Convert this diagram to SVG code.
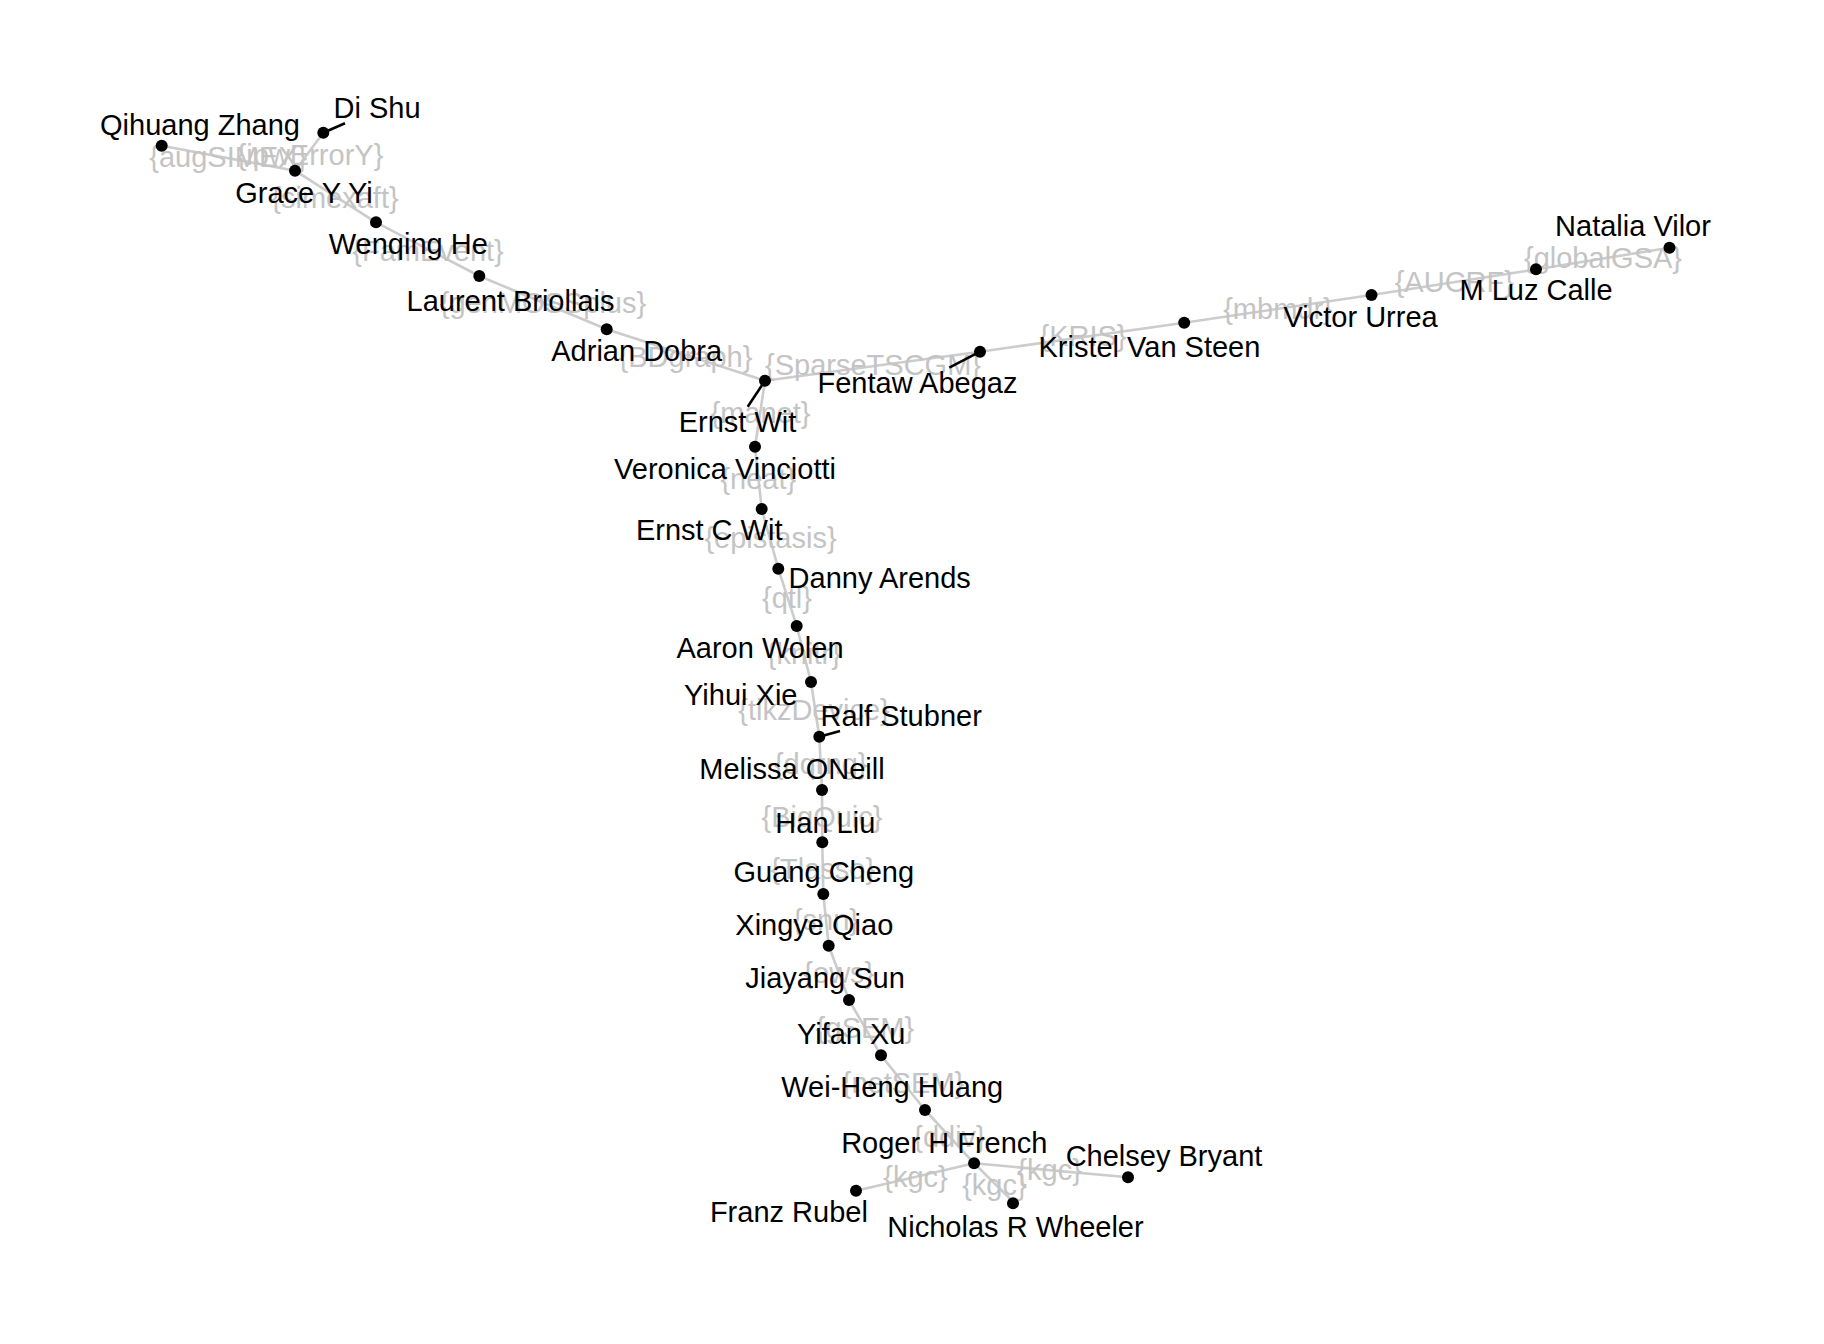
<svg xmlns="http://www.w3.org/2000/svg" width="1824" height="1344" viewBox="0 0 1824 1344">
<style>
  .edge { stroke: #cccccc; stroke-width: 2.6; fill: none; stroke-linecap: round; }
  .elabel { font-family: "Liberation Sans", Arial, sans-serif; font-size: 29px; fill: #c4c4c4; text-anchor: middle; }
  .dot { fill: #000000; }
  .nlabel { font-family: "Liberation Sans", Arial, sans-serif; font-size: 29px; fill: #000000; text-anchor: middle; }
  .leader { stroke: #000000; stroke-width: 2.6; stroke-linecap: butt; }
</style>
<rect width="1824" height="1344" fill="#ffffff"/>
<g id="connectors">
  <line class="edge" x1="161.7" y1="145.7" x2="295" y2="170.7"/>
  <line class="edge" x1="323.3" y1="132.7" x2="295" y2="170.7"/>
  <line class="edge" x1="295" y1="170.7" x2="376" y2="222.3"/>
  <line class="edge" x1="376" y1="222.3" x2="479.3" y2="276"/>
  <line class="edge" x1="479.3" y1="276" x2="606.7" y2="329.3"/>
  <line class="edge" x1="606.7" y1="329.3" x2="765" y2="380.7"/>
  <line class="edge" x1="765" y1="380.7" x2="980" y2="351.7"/>
  <line class="edge" x1="980" y1="351.7" x2="1184.2" y2="322.7"/>
  <line class="edge" x1="1184.2" y1="322.7" x2="1371.5" y2="295"/>
  <line class="edge" x1="1371.5" y1="295" x2="1537" y2="269.3"/>
  <line class="edge" x1="1537" y1="269.3" x2="1669.5" y2="247.7"/>
  <line class="edge" x1="765" y1="380.7" x2="755" y2="446.7"/>
  <line class="edge" x1="755" y1="446.7" x2="761.7" y2="509"/>
  <line class="edge" x1="761.7" y1="509" x2="778.3" y2="568.7"/>
  <line class="edge" x1="778.3" y1="568.7" x2="796.7" y2="626"/>
  <line class="edge" x1="796.7" y1="626" x2="811" y2="682"/>
  <line class="edge" x1="811" y1="682" x2="819.3" y2="736.7"/>
  <line class="edge" x1="819.3" y1="736.7" x2="822" y2="790"/>
  <line class="edge" x1="822" y1="790" x2="822.3" y2="842.3"/>
  <line class="edge" x1="822.3" y1="842.3" x2="823.3" y2="894"/>
  <line class="edge" x1="823.3" y1="894" x2="828.7" y2="945.7"/>
  <line class="edge" x1="828.7" y1="945.7" x2="849" y2="1000"/>
  <line class="edge" x1="849" y1="1000" x2="881" y2="1055.3"/>
  <line class="edge" x1="881" y1="1055.3" x2="925" y2="1110"/>
  <line class="edge" x1="925" y1="1110" x2="974.1" y2="1163.3"/>
  <line class="edge" x1="974.1" y1="1163.3" x2="856" y2="1190.7"/>
  <line class="edge" x1="974.1" y1="1163.3" x2="1014.7" y2="1203.3"/>
  <line class="edge" x1="974.1" y1="1163.3" x2="1128" y2="1177.3"/>
  <text class="elabel" x="228.3" y="166.5">{augSIMEX}</text>
  <text class="elabel" x="310" y="165">{ipwErrorY}</text>
  <text class="elabel" x="335" y="208">{simexaft}</text>
  <text class="elabel" x="428" y="261">{FamEvent}</text>
  <text class="elabel" x="543" y="312.7">{genMOSSplus}</text>
  <text class="elabel" x="685.5" y="367">{BDgraph}</text>
  <text class="elabel" x="873" y="375">{SparseTSCGM}</text>
  <text class="elabel" x="1083" y="346">{KRIS}</text>
  <text class="elabel" x="1278" y="319">{mbmdr}</text>
  <text class="elabel" x="1454.3" y="292">{AUCRF}</text>
  <text class="elabel" x="1603" y="268">{globalGSA}</text>
  <text class="elabel" x="760.5" y="423">{manet}</text>
  <text class="elabel" x="758.3" y="489">{neat}</text>
  <text class="elabel" x="770.5" y="548">{epistasis}</text>
  <text class="elabel" x="787" y="608">{qtl}</text>
  <text class="elabel" x="803.8" y="664">{knitr}</text>
  <text class="elabel" x="814" y="719.5">{tikzDevice}</text>
  <text class="elabel" x="820.7" y="773.5">{dqrng}</text>
  <text class="elabel" x="822" y="826.5">{BigQuic}</text>
  <text class="elabel" x="822.8" y="878.5">{Tlasso}</text>
  <text class="elabel" x="826" y="930">{snn}</text>
  <text class="elabel" x="838.8" y="983">{ews}</text>
  <text class="elabel" x="865" y="1038">{gSEM}</text>
  <text class="elabel" x="903" y="1093">{netSEM}</text>
  <text class="elabel" x="949.5" y="1147">{ddiv}</text>
  <text class="elabel" x="915.5" y="1187.3">{kgc}</text>
  <text class="elabel" x="994.4" y="1195">{kgc}</text>
  <text class="elabel" x="1049.6" y="1180">{kgc}</text>
</g>
<g id="node-qihuang-zhang"><circle class="dot" cx="161.7" cy="145.7" r="6"/><text class="nlabel" x="200" y="135">Qihuang Zhang</text></g>
<g id="node-di-shu"><line class="leader" x1="323.3" y1="132.7" x2="345" y2="123.3"/><circle class="dot" cx="323.3" cy="132.7" r="6"/><text class="nlabel" x="377" y="118.3">Di Shu</text></g>
<g id="node-grace-y-yi"><circle class="dot" cx="295" cy="170.7" r="6"/><text class="nlabel" x="304" y="202.7">Grace Y Yi</text></g>
<g id="node-wenqing-he"><circle class="dot" cx="376" cy="222.3" r="6"/><text class="nlabel" x="408.3" y="254">Wenqing He</text></g>
<g id="node-laurent-briollais"><circle class="dot" cx="479.3" cy="276" r="6"/><text class="nlabel" x="510.5" y="310.7">Laurent Briollais</text></g>
<g id="node-adrian-dobra"><circle class="dot" cx="606.7" cy="329.3" r="6"/><text class="nlabel" x="636.7" y="360.7">Adrian Dobra</text></g>
<g id="node-ernst-wit"><line class="leader" x1="765" y1="380.7" x2="747.7" y2="406.7"/><circle class="dot" cx="765" cy="380.7" r="6"/><text class="nlabel" x="737.5" y="431.7">Ernst Wit</text></g>
<g id="node-fentaw-abegaz"><line class="leader" x1="980" y1="351.7" x2="949.3" y2="367.7"/><circle class="dot" cx="980" cy="351.7" r="6"/><text class="nlabel" x="917.5" y="392.7">Fentaw Abegaz</text></g>
<g id="node-kristel-van-steen"><circle class="dot" cx="1184.2" cy="322.7" r="6"/><text class="nlabel" x="1149.4" y="357">Kristel Van Steen</text></g>
<g id="node-victor-urrea"><circle class="dot" cx="1371.5" cy="295" r="6"/><text class="nlabel" x="1360.6" y="326.7">Victor Urrea</text></g>
<g id="node-m-luz-calle"><circle class="dot" cx="1536" cy="269.3" r="6"/><text class="nlabel" x="1536" y="300">M Luz Calle</text></g>
<g id="node-natalia-vilor"><circle class="dot" cx="1669.5" cy="247.7" r="6"/><text class="nlabel" x="1633" y="236">Natalia Vilor</text></g>
<g id="node-veronica-vinciotti"><circle class="dot" cx="755" cy="446.7" r="6"/><text class="nlabel" x="725" y="479">Veronica Vinciotti</text></g>
<g id="node-ernst-c-wit"><circle class="dot" cx="761.7" cy="509" r="6"/><text class="nlabel" x="709.2" y="540">Ernst C Wit</text></g>
<g id="node-danny-arends"><circle class="dot" cx="778.3" cy="568.7" r="6"/><text class="nlabel" x="879.7" y="588.3">Danny Arends</text></g>
<g id="node-aaron-wolen"><circle class="dot" cx="796.7" cy="626" r="6"/><text class="nlabel" x="760" y="657.5">Aaron Wolen</text></g>
<g id="node-yihui-xie"><circle class="dot" cx="811" cy="682" r="6"/><text class="nlabel" x="740.8" y="705">Yihui Xie</text></g>
<g id="node-ralf-stubner"><line class="leader" x1="819.3" y1="736.7" x2="840" y2="731"/><circle class="dot" cx="819.3" cy="736.7" r="6"/><text class="nlabel" x="901.2" y="726">Ralf Stubner</text></g>
<g id="node-melissa-oneill"><circle class="dot" cx="822" cy="790" r="6"/><text class="nlabel" x="792" y="779">Melissa ONeill</text></g>
<g id="node-han-liu"><circle class="dot" cx="822.3" cy="842.3" r="6"/><text class="nlabel" x="825.3" y="832.7">Han Liu</text></g>
<g id="node-guang-cheng"><circle class="dot" cx="823.3" cy="894" r="6"/><text class="nlabel" x="823.8" y="881.7">Guang Cheng</text></g>
<g id="node-xingye-qiao"><circle class="dot" cx="828.7" cy="945.7" r="6"/><text class="nlabel" x="814.3" y="935">Xingye Qiao</text></g>
<g id="node-jiayang-sun"><circle class="dot" cx="849" cy="1000" r="6"/><text class="nlabel" x="825" y="988.3">Jiayang Sun</text></g>
<g id="node-yifan-xu"><circle class="dot" cx="881" cy="1055.3" r="6"/><text class="nlabel" x="851.2" y="1044">Yifan Xu</text></g>
<g id="node-wei-heng-huang"><circle class="dot" cx="925" cy="1110" r="6"/><text class="nlabel" x="892.2" y="1096.7">Wei-Heng Huang</text></g>
<g id="node-roger-h-french"><circle class="dot" cx="974.1" cy="1163.3" r="6"/><text class="nlabel" x="944.3" y="1153.3">Roger H French</text></g>
<g id="node-franz-rubel"><circle class="dot" cx="856" cy="1190.7" r="6"/><text class="nlabel" x="788.9" y="1221.7">Franz Rubel</text></g>
<g id="node-nicholas-r-wheeler"><circle class="dot" cx="1013" cy="1203.3" r="6"/><text class="nlabel" x="1015.5" y="1237.3">Nicholas R Wheeler</text></g>
<g id="node-chelsey-bryant"><circle class="dot" cx="1128" cy="1177.3" r="6"/><text class="nlabel" x="1164" y="1166">Chelsey Bryant</text></g>
</svg>
